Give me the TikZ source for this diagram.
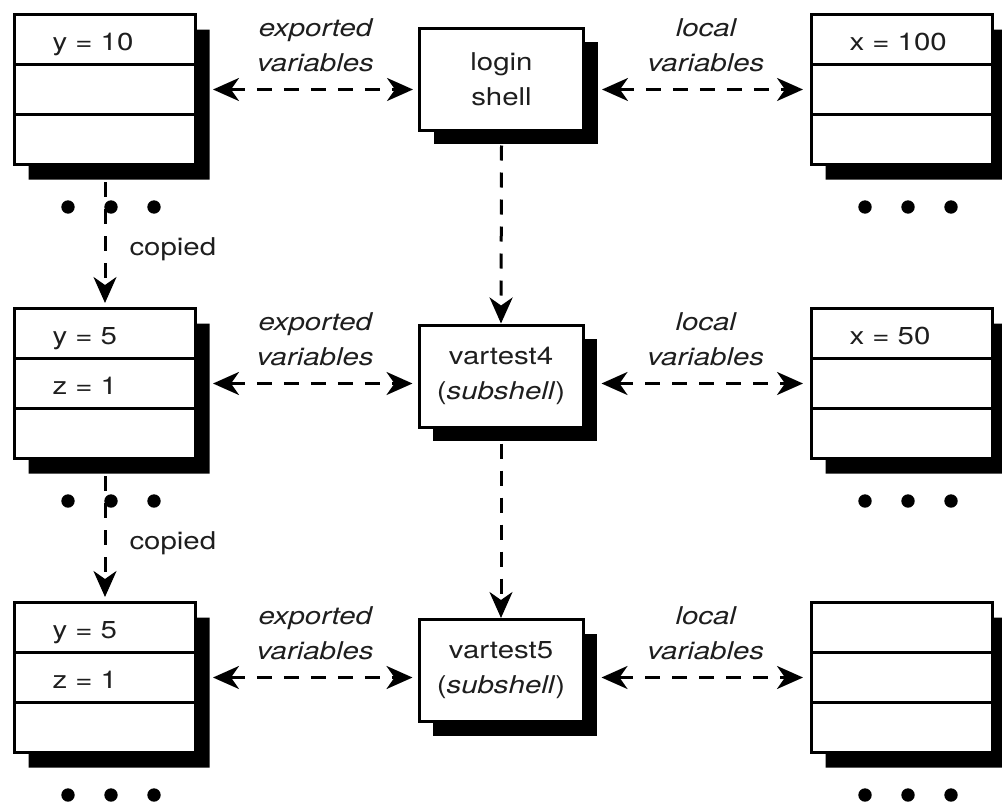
\documentclass[tikz,border=0pt]{standalone}
\usepackage{fontspec}
\setmainfont{TeX Gyre Heros}[FakeStretch=1.2]
\usepackage{tikz}
\usetikzlibrary{arrows.meta,shapes.multipart,shadows,calc}
\definecolor{Ink}{HTML}{1E1E1E}
\newcommand{\cellstrut}{\rule[-13pt]{0pt}{47pt}}
\tikzset{
  varstack/.style={
    rectangle split,rectangle split parts=3,draw=black,line width=3pt,fill=white,
    text width=105pt,inner xsep=38pt,inner ysep=0pt,anchor=north west,
    font=\fontsize{24.5}{35}\selectfont,text=Ink,
    drop shadow={shadow xshift=14pt,shadow yshift=-15pt,opacity=1,fill=black}
  },
  shellbox/.style={
    draw=black,line width=3pt,fill=white,
    minimum width=164pt,minimum height=102pt,inner sep=0pt,
    align=center,font=\fontsize{24.5}{35}\selectfont,text=Ink,
    drop shadow={shadow xshift=14pt,shadow yshift=-14pt,opacity=1,fill=black}
  },
  link/.style={
    {Stealth[length=26pt,width=23pt,inset=8pt]}-{Stealth[length=26pt,width=23pt,inset=8pt]},
    line width=3pt,dash pattern=on 15pt off 12pt
  },
  flowdown/.style={
    -{Stealth[length=26pt,width=23pt,inset=8pt]},
    line width=3pt,dash pattern=on 15pt off 12pt
  },
  varlabel/.style={inner sep=0pt,align=center,text=Ink,
    font=\fontsize{24.5}{35}\selectfont\itshape},
  copylabel/.style={inner sep=0pt,text=Ink,font=\fontsize{24.5}{35}\selectfont}
}

\begin{document}
\begin{tikzpicture}[x=1pt,y=-1pt]
  \useasboundingbox (0,0) rectangle (1002,803);

  % exported variables (left)
  \node[varstack] (ex1) at (13,13)
    {\cellstrut y = 10\nodepart{two}\cellstrut\nodepart{three}\cellstrut};
  \node[varstack] (ex2) at (13,307)
    {\cellstrut y = 5\nodepart{two}\cellstrut z = 1\nodepart{three}\cellstrut};
  \node[varstack] (ex3) at (13,601)
    {\cellstrut y = 5\nodepart{two}\cellstrut z = 1\nodepart{three}\cellstrut};

  % local variables (right)
  \node[varstack] (loc1) at (810,13)
    {\cellstrut x = 100\nodepart{two}\cellstrut\nodepart{three}\cellstrut};
  \node[varstack] (loc2) at (810,307)
    {\cellstrut x = 50\nodepart{two}\cellstrut\nodepart{three}\cellstrut};
  \node[varstack] (loc3) at (810,601)
    {\cellstrut\nodepart{two}\cellstrut\nodepart{three}\cellstrut};

  % shells
  \node[shellbox] (login) at (501.5,79) {login\\shell};
  \node[shellbox] (sub4) at (501,376) {vartest4\\(\textit{subshell})};
  \node[shellbox] (sub5) at (501,670.5) {vartest5\\(\textit{subshell})};

  \foreach \s in {ex1,ex2,ex3,loc1,loc2,loc3}
    \foreach \dx in {55,98,141}
      \fill ([xshift=\dx pt,yshift=-41pt]\s.south west) circle (6.7pt);

  \draw[link,shorten >=5pt] ([xshift=16pt]ex1.east) -- (login.west |- ex1.east)
    node[midway,above=16pt,varlabel] {exported\\variables};
  \draw[link,shorten >=7pt] ([xshift=17pt]login.east |- loc1.west) -- (loc1.west)
    node[midway,above=16pt,varlabel] {local\\variables};
  \draw[link,shorten >=5pt] ([xshift=16pt]ex2.east) -- (sub4.west |- ex2.east)
    node[midway,above=16pt,varlabel] {exported\\variables};
  \draw[link,shorten >=7pt] ([xshift=17pt]sub4.east |- loc2.west) -- (loc2.west)
    node[midway,above=16pt,varlabel] {local\\variables};
  \draw[link,shorten >=5pt] ([xshift=16pt]ex3.east) -- (sub5.west |- ex3.east)
    node[midway,above=16pt,varlabel] {exported\\variables};
  \draw[link,shorten >=7pt] ([xshift=17pt]sub5.east |- loc3.west) -- (loc3.west)
    node[midway,above=16pt,varlabel] {local\\variables};

  \draw[flowdown] ([yshift=-14pt]login.south) -- (sub4.north);
  \draw[flowdown] ([yshift=-15pt]sub4.south) -- (sub5.north);

  \draw[flowdown,shorten >=4pt] ([yshift=-16pt]ex1.south) -- (ex2.north)
    node[pos=.54,right=23pt,copylabel] {copied};
  \draw[flowdown,shorten >=4pt] ([yshift=-16pt]ex2.south) -- (ex3.north)
    node[pos=.54,right=23pt,copylabel] {copied};
\end{tikzpicture}
\end{document}
